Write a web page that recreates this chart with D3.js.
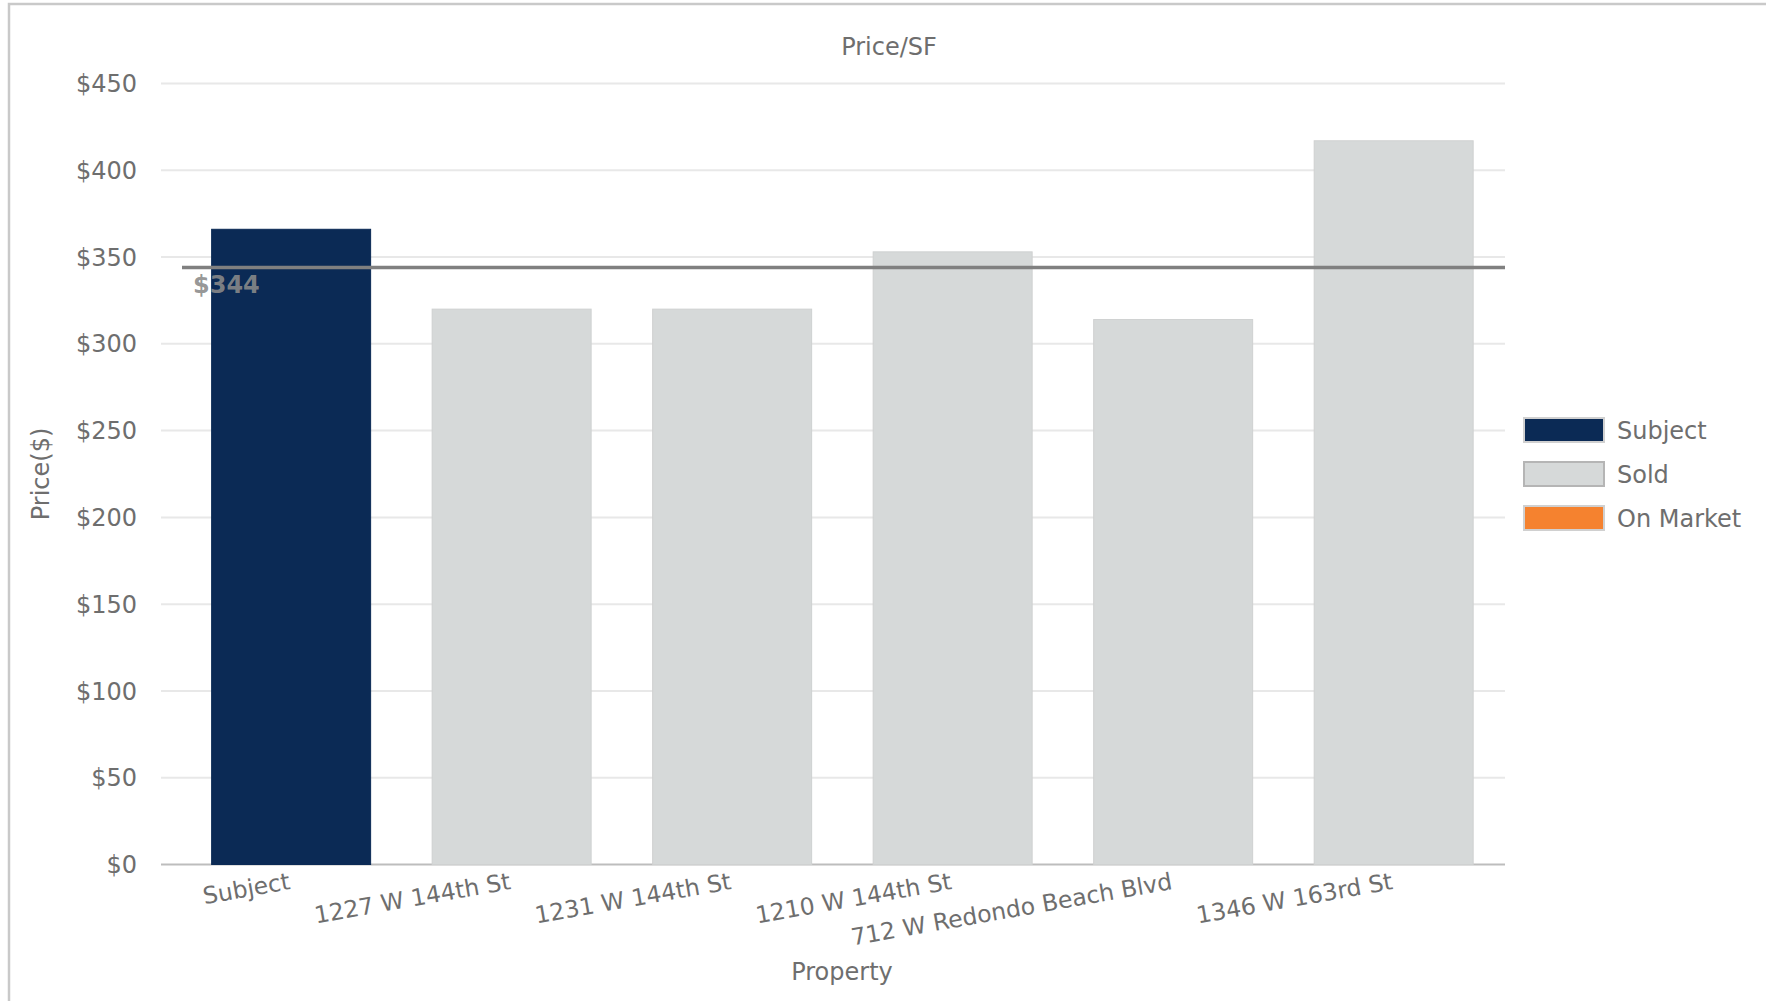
<!DOCTYPE html>
<html>
<head>
<meta charset="utf-8">
<script src="https://cdn.jsdelivr.net/npm/d3@7"></script>
<style>
  html, body { margin: 0; padding: 0; background: #fff; }
  svg { display: block; }
  text { font-family: "DejaVu Sans", Verdana, sans-serif; }
</style>
</head>
<body>
<svg id="chart" width="1766" height="1001"></svg>
<script>
const categories = ["Subject", "1227 W 144th St", "1231 W 144th St", "1210 W 144th St", "712 W Redondo Beach Blvd", "1346 W 163rd St"];
const values = [366, 320, 320, 353, 314, 417];
const groups = ["Subject", "Sold", "Sold", "Sold", "Sold", "Sold"];
const legendLabels = ["Subject", "Sold", "On Market"];
const legendColors = ["#0b2a55", "#d6d9d9", "#f5822f"];
const yTicks = [0, 50, 100, 150, 200, 250, 300, 350, 400, 450];
const meanValue = 344;

const svg = d3.select("#chart");
const W = 1766, H = 1001;

// outer frame
svg.append("rect").attr("x", 9).attr("y", 4).attr("width", W + 20).attr("height", H + 20)
  .attr("fill", "none").attr("stroke", "#c9c9c9").attr("stroke-width", 2.5);

const x = d3.scaleBand().domain(categories).range([161, 1505])
  .paddingInner(0.279).paddingOuter(0.187).align(0.614);
const y = d3.scaleLinear().domain([0, 450]).range([864.5, 83.5]);
const color = d3.scaleOrdinal().domain(legendLabels).range(legendColors);

// gridlines
svg.append("g").selectAll("line").data(yTicks).join("line")
  .attr("x1", x.range()[0]).attr("x2", x.range()[1])
  .attr("y1", d => y(d)).attr("y2", d => y(d))
  .attr("stroke", d => d === 0 ? "#bdbdbd" : "#e8e8e8").attr("stroke-width", 2);

// y axis labels
svg.append("g").selectAll("text").data(yTicks).join("text")
  .attr("x", 137).attr("y", d => y(d)).attr("dy", "0.36em")
  .attr("text-anchor", "end").attr("font-size", 24).attr("fill", "#6e6e6e")
  .text(d => "$" + d);

// bars
svg.append("g").selectAll("rect").data(categories).join("rect")
  .attr("x", d => x(d)).attr("width", x.bandwidth())
  .attr("y", (d, i) => y(values[i])).attr("height", (d, i) => y(0) - y(values[i]))
  .attr("fill", (d, i) => color(groups[i]))
  .attr("stroke", (d, i) => groups[i] === "Subject" ? "#0b2a55" : "#cfd1d1")
  .attr("stroke-width", 1);

// mean line
svg.append("line").attr("x1", 182).attr("x2", x.range()[1])
  .attr("y1", y(meanValue)).attr("y2", y(meanValue))
  .attr("stroke", "#808080").attr("stroke-width", 3.5);
svg.append("text").attr("x", 193).attr("y", y(meanValue) + 26)
  .attr("font-size", 24).attr("font-weight", "bold").attr("fill", "#8a8a8a")
  .attr("fill-opacity", 0.9)
  .text("$" + meanValue);

// x labels
svg.append("g").selectAll("text").data(categories).join("text")
  .attr("transform", d => `translate(${x(d) + x.bandwidth() / 2},889) rotate(-10)`)
  .attr("text-anchor", "end").attr("font-size", 23.5).attr("fill", "#6e6e6e")
  .text(d => d);

// title
svg.append("text").attr("x", 889).attr("y", 55).attr("text-anchor", "middle")
  .attr("font-size", 24).attr("fill", "#6e6e6e").text("Price/SF");

// axis titles
svg.append("text").attr("x", 842).attr("y", 980).attr("text-anchor", "middle")
  .attr("font-size", 24).attr("fill", "#6e6e6e").text("Property");
svg.append("text").attr("transform", "translate(49,474) rotate(-90)")
  .attr("text-anchor", "middle").attr("font-size", 24).attr("fill", "#6e6e6e").text("Price($)");

// legend
const lg = svg.append("g").selectAll("g").data(legendLabels).join("g")
  .attr("transform", (d, i) => `translate(1524,${418 + i * 44})`);
lg.append("rect").attr("width", 80).attr("height", 24)
  .attr("fill", d => color(d))
  .attr("stroke", d => d === "Sold" ? "#b5b5b5" : "#d0d0d0").attr("stroke-width", 2);
lg.append("text").attr("x", 93).attr("y", 12).attr("dy", "0.36em")
  .attr("font-size", 24).attr("fill", "#6e6e6e").text(d => d);
</script>
</body>
</html>
